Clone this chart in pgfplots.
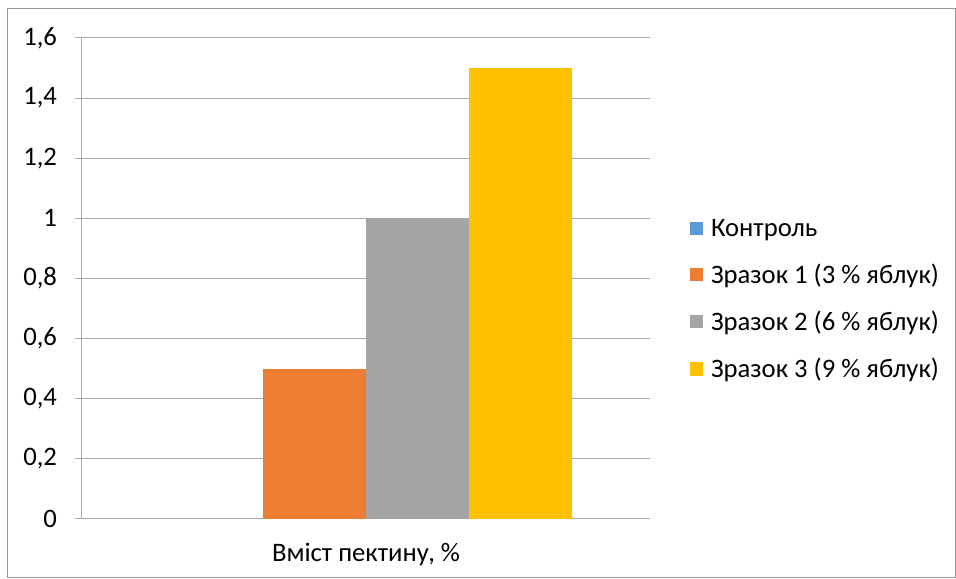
\documentclass[border=0pt]{standalone}
\usepackage{fontspec}
\setmainfont{Carlito}
\usepackage{pgfplots}
\pgfplotsset{compat=1.18}

\definecolor{cBlue}{HTML}{5B9BD5}
\definecolor{cOrange}{HTML}{ED7D31}
\definecolor{cGray}{HTML}{A5A5A5}
\definecolor{cGold}{HTML}{FFC000}
\definecolor{gridc}{RGB}{170,170,170}
\definecolor{framec}{RGB}{150,150,150}

\newcommand{\lblfont}{\fontsize{20}{24}\selectfont}

\begin{document}
\begin{tikzpicture}[x=0.75pt,y=0.75pt]
% page area and outer frame
\path[fill=white] (0,0) rectangle (956,578);
\draw[framec, line width=0.75pt] (7,0.5) rectangle (955.5,569);

\begin{axis}[
  at={(61.5pt,44.25pt)}, anchor=south west,
  scale only axis,
  width=426pt, height=360.75pt,
  xmin=0, xmax=1,
  ymin=0, ymax=1.6,
  ytick={0,0.2,...,1.6},
  xtick={0.5},
  xticklabels={Вміст пектину{,} \%},
  extra x ticks={0,1},
  extra x tick labels={},
  extra x tick style={major tick length=5.25pt, tick style={gridc, line width=0.75pt}},
  tick align=outside,
  major tick length=5.25pt,
  x tick style={draw=none},
  y tick style={gridc, line width=0.75pt},
  ymajorgrids,
  grid style={gridc, line width=0.75pt},
  axis x line*=bottom,
  axis y line*=left,
  axis line style={gridc, line width=0.75pt, -},
  /pgf/number format/use comma,
  /pgf/number format/assume math mode=true,
  ticklabel style={font=\lblfont},
  yticklabel style={xshift=-10pt},
  xticklabel style={yshift=-9pt},
  ybar=0pt,
  bar width=0.1813,
  legend style={draw=none, font=\lblfont, at={(1.07,0.63)}, anchor=north west,
    row sep=15.3pt, column sep=0pt, inner sep=0pt,
    nodes={inner sep=2pt}},
  legend cell align=left,
  legend image code/.code={\fill[#1] (0pt,-4.9pt) rectangle (9.75pt,4.9pt);},
]
% the control sample has zero content: no visible bar, only its key
\addplot[fill=none, draw=none,
  legend image code/.code={\fill[cBlue] (0pt,-4.9pt) rectangle (9.75pt,4.9pt);}]
  coordinates {(0.5,0)};
\addplot[fill=cOrange, draw=none] coordinates {(0.5,0.5)};
\addplot[fill=cGray, draw=none] coordinates {(0.5,1.0)};
\addplot[fill=cGold, draw=none] coordinates {(0.5,1.5)};
\legend{\hspace{4pt}Контроль, \hspace{4pt}Зразок 1 (3 \% яблук), \hspace{4pt}Зразок 2 (6 \% яблук), \hspace{4pt}Зразок 3 (9 \% яблук)}
\end{axis}
\end{tikzpicture}
\end{document}
